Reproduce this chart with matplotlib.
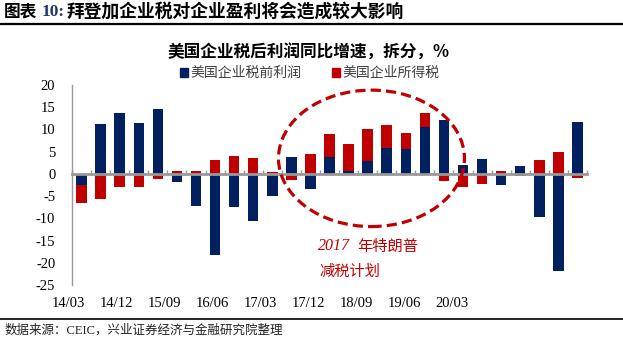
import numpy as np
import matplotlib
matplotlib.use("Agg")
import matplotlib.pyplot as plt
from matplotlib.patches import Ellipse, Patch
from matplotlib.lines import Line2D

plt.rcParams['font.family'] = ['Liberation Serif', 'Noto Sans CJK SC']
CJK = ['Noto Sans CJK SC', 'DejaVu Sans']
MIX = ['Liberation Serif', 'Noto Sans CJK SC']

# quarterly yoy growth of after-tax profits, split in two parts (%), 2014Q1 - 2020Q3
quarters = ['14/03', '14/06', '14/09', '14/12', '15/03', '15/06', '15/09', '15/12',
            '16/03', '16/06', '16/09', '16/12', '17/03', '17/06', '17/09', '17/12',
            '18/03', '18/06', '18/09', '18/12', '19/03', '19/06', '19/09', '19/12',
            '20/03', '20/06', '20/09']
pretax = [-2.5, 11.3, 13.8, 11.5, 14.7, -1.9, -7.3, -18.3, -7.5, -10.5, -5.0, 3.9,
          -3.5, 3.7, 0.7, 2.8, 5.9, 5.6, 10.5, 12.1, 2.1, 3.3, -2.5, 1.7, -9.8, -21.9, 11.7]
tax = [-4.0, -5.7, -3.0, -2.9, -1.2, 0.7, 0.7, 3.2, 4.0, 3.6, 0.4, -1.4,
       4.4, 5.2, 6.0, 7.4, 5.0, 3.7, 3.2, -1.7, -3.0, -2.2, 0.6, -0.5, 3.1, 5.0, -1.0]
xlabels = ['14/03', '14/12', '15/09', '16/06', '17/03', '17/12', '18/09', '19/06', '20/03']
yticks = [20, 15, 10, 5, 0, -5, -10, -15, -20, -25]

BLUE = '#002060'
RED = '#C00000'

x = np.arange(len(quarters))
pretax = np.array(pretax)
tax = np.array(tax)
# excel-style stacking: positives and negatives stack separately
tax_bottom = np.where(np.sign(tax) == np.sign(pretax), pretax, 0)

fig = plt.figure(figsize=(6.23, 3.40), dpi=100)
ax = fig.add_axes([72/623, 1-285/340, 515/623, 200/340])

ax.bar(x, pretax, width=0.55, color=BLUE, zorder=2)
ax.bar(x, tax, bottom=tax_bottom, width=0.55, color=RED, zorder=2)

ax.set_xlim(-0.5, len(quarters) - 0.5)
ax.set_ylim(-25, 20)
ax.set_yticks(yticks)
ax.set_yticklabels([str(v) for v in yticks], fontsize=10.5)
ax.tick_params(axis='y', length=0, pad=12)

for s in ['top', 'right']:
    ax.spines[s].set_visible(False)
ax.spines['left'].set_color('#999999')
ax.spines['left'].set_linewidth(1.0)
ax.spines['bottom'].set_position(('data', 0))
ax.spines['bottom'].set_color('#999999')
ax.spines['bottom'].set_linewidth(2.0)
ax.spines['bottom'].set_zorder(3)
ax.set_xticks(np.arange(len(quarters) + 1) - 0.5)
ax.set_xticklabels([])
ax.tick_params(axis='x', direction='in', length=3, width=1, color='#999999')

# date labels along the bottom of the plot
label_pos = np.arange(len(xlabels)) * 2.514 - 0.68
for p, lab in zip(label_pos, xlabels):
    ax.text(p, -0.06, lab, transform=ax.get_xaxis_transform(), ha='center', va='top',
            fontsize=10.5)

# circle around the 2017 tax cut period
ell = Ellipse((15.2, 3.5), 9.75, 30.7, fill=False, edgecolor=RED, lw=2.3,
              linestyle=(0, (3.2, 1.6)), zorder=4)
ax.add_patch(ell)
ax.text(12.4, -16.3, '2017', color=RED, fontsize=11.5, style='italic',
        family='Liberation Serif', va='center', ha='left')
ax.text(14.45, -16.3, '年特朗普', color=RED, fontsize=11, style='italic',
        family=CJK, va='center', ha='left')
ax.text(12.5, -22.0, '减税计划', color=RED, fontsize=11, style='italic',
        family=CJK, va='center', ha='left')

# chart title and legend
fig.text(0.495, 1-53/340, '美国企业税后利润同比增速，拆分，%', family=CJK, fontsize=12,
         fontweight='bold', ha='center', va='center')
handles = [Patch(color=BLUE), Patch(color=RED)]
fig.legend(handles, ['美国企业税前利润', '美国企业所得税'], loc='center',
           bbox_to_anchor=(0.497, 1-73/340), ncol=2, frameon=False,
           prop={'family': CJK, 'size': 10}, labelcolor='#404040',
           handlelength=0.6, handleheight=0.6, handletextpad=0.15, columnspacing=2.2)

# page header and footer
fig.text(4/623, 1-12/340, '图表', family=CJK, fontsize=12, fontweight='bold',
         ha='left', va='center')
fig.text(42/623, 1-12/340, '10:', family='Liberation Serif', fontsize=12.5,
         fontweight='bold', color='#1F3864', ha='left', va='center')
fig.text(67/623, 1-12/340, '拜登加企业税对企业盈利将会造成较大影响', family=CJK,
         fontsize=12.8, fontweight='bold', ha='left', va='center')
fig.add_artist(Line2D([0, 1], [1-23.5/340, 1-23.5/340], color='black', lw=1.6))
fig.add_artist(Line2D([0, 1], [1-319/340, 1-319/340], color='black', lw=1.2))
fig.text(5/623, 1-330/340, '数据来源：CEIC，兴业证券经济与金融研究院整理', family=MIX,
         fontsize=9, color='#222222', ha='left', va='center')

fig.savefig('out.png', dpi=100)
